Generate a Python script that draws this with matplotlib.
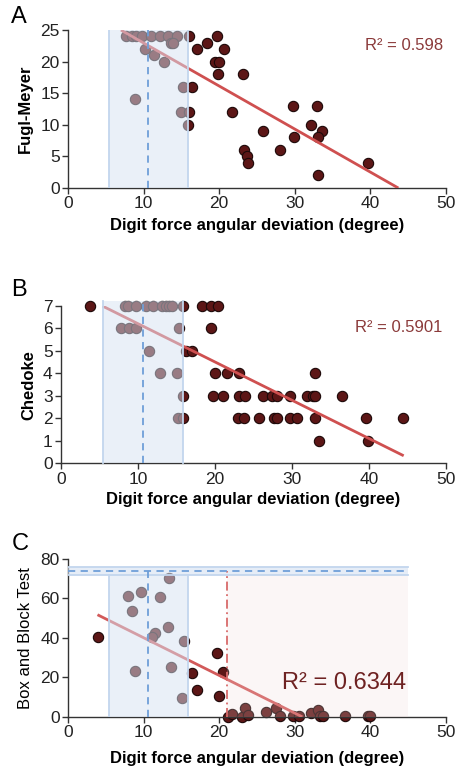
import matplotlib
matplotlib.use("Agg")
import matplotlib.pyplot as plt
import numpy as np

plt.rcParams['font.family'] = ['Liberation Sans', 'DejaVu Sans']

# ---------------- data ----------------
# Panel A: Fugl-Meyer
fm_x = [7.7, 8.4, 9.05, 9.85, 11.0, 12.15, 13.25, 14.45, 13.56, 13.9, 10.16, 11.35, 12.7,
        8.83, 15.15, 15.0,
        16.0, 17.1, 18.4, 19.7, 20.6, 19.4, 20.0, 19.8, 16.4, 16.0, 15.9, 23.1, 21.7,
        23.3, 23.7, 23.85, 25.75, 28.05, 29.8, 29.9, 33.0, 32.2, 33.6, 33.1, 33.1, 39.7]
fm_y = [24, 24, 24, 24, 24, 24, 24, 24, 23, 23, 22, 21, 20,
        14, 16, 12,
        24, 22, 23, 24, 22, 20, 20, 18, 16, 12, 10, 18, 12,
        6, 5, 4, 9, 6, 13, 8, 13, 10, 9, 8, 2, 4]
fm_fit = [-0.681, 29.75]      # slope, intercept
fm_fit_x = [7.0, 43.7]
fm_r2 = "R² = 0.598"

# Panel B: Chedoke
ch_x = [3.8, 8.3, 8.7, 9.8, 11.0, 12.0, 13.1, 13.6, 14.0, 14.45, 15.9, 18.3, 19.5, 20.4,
        7.8, 8.8, 9.7, 15.3, 19.5,
        11.4, 16.25, 17.0,
        12.8, 15.0, 20.0, 21.6, 23.1, 33.0,
        15.85, 19.8, 21.1, 23.1, 23.85, 26.2, 27.4, 28.0, 29.8, 32.0, 32.7, 33.0, 36.5,
        15.2, 15.85, 23.0, 23.8, 25.7, 27.7, 28.0, 29.7, 30.6, 33.0, 39.6, 44.4,
        33.45, 39.85]
ch_y = [7, 7, 7, 7, 7, 7, 7, 7, 7, 7, 7, 7, 7, 7,
        6, 6, 6, 6, 6,
        5, 5, 5,
        4, 4, 4, 4, 4, 4,
        3, 3, 3, 3, 3, 3, 3, 3, 3, 3, 3, 3, 3,
        2, 2, 2, 2, 2, 2, 2, 2, 2, 2, 2, 2,
        1, 1]
ch_fit = [-0.1703, 7.913]
ch_fit_x = [5.4, 44.5]
ch_r2 = "R² = 0.5901"

# Panel C: Box and Block Test
bb_x = [7.9, 9.72, 8.48, 12.15, 13.34, 13.25, 11.48, 11.13, 15.33, 8.83, 13.6, 15.06,
        3.93, 19.7, 16.43, 20.5, 17.1, 19.96,
        21.1, 21.7, 23.0, 23.37, 23.85, 26.2, 27.5, 28.05, 29.7, 30.6, 32.1, 33.1,
        33.35, 33.7, 36.7, 39.75, 39.9]
bb_y = [61.4, 63.4, 53.4, 60.5, 70.4, 45.3, 42.6, 40.6, 38.4, 23.3, 25.4, 9.3,
        40.25, 32.5, 22.3, 22.5, 13.4, 10.5,
        0, 1.4, 0, 4.4, 0.8, 2.2, 4.4, 0.3, 0.3, 0.5, 1.7, 3.2,
        0.3, 0.3, 0.5, 0.3, 0.3]
bb_fit = [-1.912, 59.19]
bb_fit_x = [3.9, 31.0]
bb_r2 = "R² = 0.6344"

# reference band (healthy range)
band_x = [5.45, 15.85]
band_mean_x = 10.63
bb_norm_band = [71.7, 76.0]
bb_norm_mean = 73.9
bb_cut = 21.07

xlabel = "Digit force angular deviation (degree)"
xticks = [0, 10, 20, 30, 40, 50]

# ---------------- style ----------------
PT_FACE = '#5c1616'
PT_EDGE = '#1c0808'
LINE_C = '#cf5050'
BLUE_FILL = '#d6e2f2'
BLUE_EDGE = '#c3d6ee'
BLUE_DASH = '#6f9fd8'
PT_SIZE = 55

fig = plt.figure(figsize=(4.57, 7.72), dpi=100)


def style_axes(ax, ylim, yticks, ylabel, ybold=True, xpad=4):
    ax.set_xlim(0, 50)
    ax.set_ylim(*ylim)
    ax.set_xticks(xticks)
    ax.set_yticks(yticks)
    for s in ['top', 'right']:
        ax.spines[s].set_visible(False)
    for s in ['left', 'bottom']:
        ax.spines[s].set_color('#333333')
        ax.spines[s].set_linewidth(1.0)
    ax.tick_params(axis='both', labelsize=12.5, colors='#333333', labelcolor='#222222',
                   length=4, width=1.0, direction='out', pad=2)
    ax.set_xlabel(xlabel, fontsize=12, fontweight='bold', labelpad=xpad)
    ax.set_ylabel(ylabel, fontsize=12,
                  fontweight='bold' if ybold else 'normal', labelpad=5)
    ax.patch.set_alpha(0)


def draw_band(ax, top):
    ax.fill_between(band_x, 0, top, color=BLUE_FILL, alpha=0.5, lw=0, zorder=4)
    for xv in band_x:
        ax.plot([xv, xv], [0, top], color=BLUE_EDGE, lw=1.3, zorder=4)
    ax.plot([band_mean_x, band_mean_x], [0, top], color=BLUE_DASH, lw=1.3,
            ls=(0, (4, 3)), zorder=5)


def fit_line(ax, fit, xr, color=LINE_C, lw=2.0):
    xs = np.array(xr)
    ax.plot(xs, fit[0] * xs + fit[1], color=color, lw=lw, zorder=3, solid_capstyle='butt')


# ---- Panel A ----
axA = fig.add_axes([0.1488, 0.7565, 0.8271, 0.2047])
axA.scatter(fm_x, fm_y, s=PT_SIZE, c=PT_FACE, edgecolors=PT_EDGE, linewidths=0.8, zorder=2,
            clip_on=False)
fit_line(axA, fm_fit, fm_fit_x)
draw_band(axA, 25)
style_axes(axA, (0, 25), [0, 5, 10, 15, 20, 25], "Fugl-Meyer", xpad=5)
axA.text(39.3, 22.6, fm_r2, fontsize=12, color='#8b3a3a', ha='left', va='center')

# ---- Panel B ----
axB = fig.add_axes([0.1335, 0.3999, 0.8425, 0.2038])
axB.scatter(ch_x, ch_y, s=PT_SIZE, c=PT_FACE, edgecolors=PT_EDGE, linewidths=0.8, zorder=2,
            clip_on=False)
fit_line(axB, ch_fit, ch_fit_x)
axB.fill_between(band_x, 0, 7.2, color=BLUE_FILL, alpha=0.5, lw=0, zorder=4, clip_on=False)
for xv in band_x:
    axB.plot([xv, xv], [0, 7.2], color=BLUE_EDGE, lw=1.3, zorder=4, clip_on=False)
axB.plot([band_mean_x, band_mean_x], [0, 7.2], color=BLUE_DASH, lw=1.3,
         ls=(0, (4, 3)), zorder=5, clip_on=False)
style_axes(axB, (0, 7), [0, 1, 2, 3, 4, 5, 6, 7], "Chedoke", xpad=4)
axB.text(38.2, 6.05, ch_r2, fontsize=12, color='#8b3a3a', ha='left', va='center')

# ---- Panel C ----
axC = fig.add_axes([0.1488, 0.0716, 0.8271, 0.2043])
axC.scatter(bb_x, bb_y, s=PT_SIZE, c=PT_FACE, edgecolors=PT_EDGE, linewidths=0.8, zorder=2,
            clip_on=False)
fit_line(axC, bb_fit, bb_fit_x, color='#d25a5a')
# pink impaired region
axC.fill_between([bb_cut, 45], 0, bb_norm_band[0], color='#efd6d6', alpha=0.22, lw=0, zorder=4)
axC.plot([bb_cut, bb_cut], [0, bb_norm_mean], color='#d86a6a', lw=1.3,
         ls=(0, (5, 2, 1, 2)), zorder=5)
# blue vertical band
axC.fill_between(band_x, 0, bb_norm_band[0], color=BLUE_FILL, alpha=0.5, lw=0, zorder=4)
for xv in band_x:
    axC.plot([xv, xv], [0, bb_norm_band[0]], color=BLUE_EDGE, lw=1.3, zorder=4)
axC.plot([band_mean_x, band_mean_x], [0, bb_norm_band[1]], color=BLUE_DASH, lw=1.3,
         ls=(0, (4, 3)), zorder=5)
# horizontal normative band
axC.fill_between([0, 45], bb_norm_band[0], bb_norm_band[1], color=BLUE_FILL, alpha=0.6,
                 lw=0, zorder=4)
for yv in bb_norm_band:
    axC.plot([0, 45], [yv, yv], color=BLUE_EDGE, lw=1.3, zorder=4)
axC.plot([0, 45], [bb_norm_mean, bb_norm_mean], color=BLUE_DASH, lw=1.3,
         ls=(0, (4, 3)), zorder=5)
style_axes(axC, (0, 80), [0, 20, 40, 60, 80], "Box and Block Test", ybold=False, xpad=8)
axC.text(28.3, 17, bb_r2, fontsize=17, color='#6e2222', ha='left', va='center', zorder=6)

# panel letters
fig.text(0.025, 0.978, "A", fontsize=17, ha='left', va='center')
fig.text(0.025, 0.625, "B", fontsize=17, ha='left', va='center')
fig.text(0.025, 0.295, "C", fontsize=17, ha='left', va='center')

fig.savefig("out.png", dpi=100)
